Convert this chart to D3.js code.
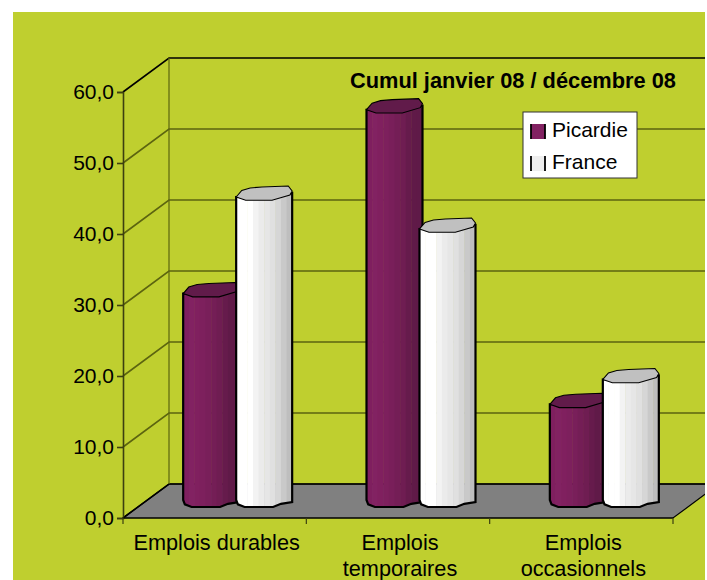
<!DOCTYPE html>
<html>
<head>
<meta charset="utf-8">
<script src="https://cdn.jsdelivr.net/npm/d3@7"></script>
<style>
    html, body { margin: 0; background: #fff; }
    svg { display: block; }
    text { font-family: "Liberation Sans", Arial, sans-serif; fill: #000; }
</style>
</head>
<body>
<div id="chart"></div>
<script>
const categories = [["Emplois durables"], ["Emplois", "temporaires"], ["Emplois", "occasionnels"]]
const seriesNames = ["Picardie", "France"]
const picardie = [29.5, 55.4, 13.9]
const france = [43.1, 38.6, 17.4]
const yTicks = [0, 10, 20, 30, 40, 50, 60]
const chartTitle = "Cumul janvier 08 / décembre 08"

const chartWidth = 707, chartHeight = 580,
    plotLeft = 123, plotRight = 673, plotBottom = 518, plotTop = 92,
    depthX = 46, depthY = -34

const svg = d3.select("#chart").append("svg")
    .attr("width", chartWidth)
    .attr("height", chartHeight)

svg.append("rect")
    .attr("x", 13).attr("y", 12)
    .attr("width", 692).attr("height", 568)
    .attr("fill", "#bfcf2f")

svg.append("clipPath").attr("id", "page")
    .append("rect")
    .attr("x", 13).attr("y", 12)
    .attr("width", 692).attr("height", 568)

const x0 = d3.scaleBand()
    .domain(d3.range(categories.length))
    .range([plotLeft, plotRight])

const x1 = d3.scaleBand()
    .domain(seriesNames)
    .range([-54.5, 51.5])

const y = d3.scaleLinear()
    .domain([0, 60])
    .range([plotBottom, plotTop])

const plot = svg.append("g").attr("clip-path", "url(#page)")
const line = "#5c6410"

// floor
plot.append("path")
    .attr("d", d3.line()([[plotLeft, plotBottom], [plotRight, plotBottom], [plotRight + depthX, plotBottom + depthY], [plotLeft + depthX, plotBottom + depthY]]) + "Z")
    .attr("fill", "#808080")
    .attr("stroke", "#000")
    .attr("stroke-width", 1.2)

// walls
yTicks.forEach(function(tick) {
    plot.append("path")
        .attr("d", d3.line()([[plotLeft, y(tick)], [plotLeft + depthX, y(tick) + depthY], [plotRight + depthX, y(tick) + depthY]]))
        .attr("fill", "none")
        .attr("stroke", tick === 0 || tick === 60 ? "#000" : line)
        .attr("stroke-width", 1.6)
})

plot.append("line")
    .attr("x1", plotLeft + depthX).attr("x2", plotLeft + depthX)
    .attr("y1", y(0) + depthY).attr("y2", y(60) + depthY)
    .attr("stroke", line)
    .attr("stroke-width", 1.2)

// front axis
const yAxis = d3.axisLeft(y)
    .tickValues(yTicks)
    .tickSize(6)
    .tickFormat(d => d3.format(".1f")(d).replace(".", ","))

const yAxisG = svg.append("g")
    .attr("transform", `translate(${plotLeft},0)`)
    .call(yAxis)
yAxisG.selectAll("path, line").attr("stroke", "#3c4010").attr("stroke-width", 1.6)
yAxisG.selectAll("text").attr("font-size", 21).attr("x", -9).attr("font-family", null)

svg.append("line")
    .attr("x1", plotLeft).attr("x2", plotRight)
    .attr("y1", plotBottom).attr("y2", plotBottom)
    .attr("stroke", "#000")
    .attr("stroke-width", 1.2)

d3.range(categories.length + 1).forEach(function(i) {
    let xPos = i < categories.length ? x0(i) : plotRight
    svg.append("line")
        .attr("x1", xPos).attr("x2", xPos)
        .attr("y1", plotBottom).attr("y2", plotBottom + 6)
        .attr("stroke", "#3c4010")
        .attr("stroke-width", 1.2)
})

categories.forEach(function(lines, i) {
    const label = svg.append("text")
        .attr("text-anchor", "middle")
        .attr("font-size", 21.7)
    lines.forEach(function(text, j) {
        label.append("tspan")
            .attr("x", x0(i) + x0.bandwidth() / 2 + 2)
            .attr("y", 550 + j * 26)
            .text(text)
    })
})

// bars, the outline is a rough many sided cylinder
const capTop = [[0, 0], [.1, -6.5], [.25, -9], [.46, -10], [.93, -11], [1, -6], [.96, -2], [.64, 3.3], [.17, 3.3]]
const foot = [[0, 0], [.03, .62], [.15, 1], [.4, 1], [.66, 1], [.8, .55], [1, .3], [1, 0]]
const footHalf = 7

function bar(group, value, series, colours, capColour) {
    const barWidth = x1.bandwidth() + 3,
        xLeft = x0(group) + x0.bandwidth() / 2 + depthX / 2 + x1(series),
        yTop = y(value) + depthY / 2 + 2,
        yBase = y(0) + depthY / 2 - 1,
        g = plot.append("g")

    const xStrip = d3.scaleLinear().domain([0, colours.length]).range([xLeft, xLeft + barWidth])

    const bodyOutline = [[xLeft, yTop]]
        .concat(foot.map(p => [xLeft + p[0] * barWidth, yBase + p[1] * footHalf]))
        .concat([[xLeft + barWidth, yTop - 4]])

    const clipId = `bar-${group}-${series}`
    g.append("clipPath").attr("id", clipId)
        .append("path").attr("d", d3.line()(bodyOutline) + "Z")

    g.append("g").attr("clip-path", `url(#${clipId})`)
        .selectAll("rect")
        .data(colours)
        .join("rect")
        .attr("x", (d, i) => xStrip(i))
        .attr("y", yTop - 6)
        .attr("width", (d, i) => xStrip(i + 1) - xStrip(i) + .5)
        .attr("height", yBase - yTop + footHalf + 8)
        .attr("fill", d => d)

    g.append("path")
        .attr("d", d3.line()(bodyOutline) + "Z")
        .attr("fill", "none")
        .attr("stroke", "#000")
        .attr("stroke-width", 2.2)

    const capOutline = capTop.map(p => [xLeft + p[0] * barWidth, yTop + p[1]])
    g.append("path")
        .attr("d", d3.line()(capOutline) + "Z")
        .attr("fill", capColour)
        .attr("stroke", "#000")
        .attr("stroke-width", 1.1)
}

const purpleStrips = ["#7f1f5f", "#822262", "#80205f", "#7d205d", "#791f5a", "#741e56", "#6f1d52", "#661b4c", "#601a48", "#5f1a48"]
const whiteStrips = ["#ffffff", "#ffffff", "#ffffff", "#f3f3f3", "#ebebeb", "#e6e6e6", "#e0e0e0", "#d6d6d6", "#c9c9c9", "#bebebe"]

categories.forEach(function(c, i) {
    bar(i, picardie[i], "Picardie", purpleStrips, "#611b4a")
    bar(i, france[i], "France", whiteStrips, "#c0c0c0")
})

// title
svg.append("text")
    .attr("x", 350).attr("y", 88)
    .attr("font-size", 21.8)
    .attr("font-weight", "bold")
    .text(chartTitle)

// legend
const legend = svg.append("g").attr("transform", "translate(523,112)")
legend.append("rect")
    .attr("width", 114).attr("height", 66)
    .attr("fill", "#fff")
    .attr("stroke", "#333")

seriesNames.forEach(function(name, i) {
    const row = legend.append("g").attr("transform", `translate(8,${12 + i * 32})`)
    row.append("rect")
        .attr("width", 14).attr("height", 15)
        .attr("fill", i === 0 ? purpleStrips[1] : "#eeeeee")
    row.selectAll("line")
        .data([0, 14])
        .join("line")
        .attr("x1", d => d).attr("x2", d => d)
        .attr("y1", 0).attr("y2", 15)
        .attr("stroke", "#000")
        .attr("stroke-width", 1.8)
    row.append("text")
        .attr("x", 21).attr("y", 13)
        .attr("font-size", 21)
        .text(name)
})
</script>
</body>
</html>
